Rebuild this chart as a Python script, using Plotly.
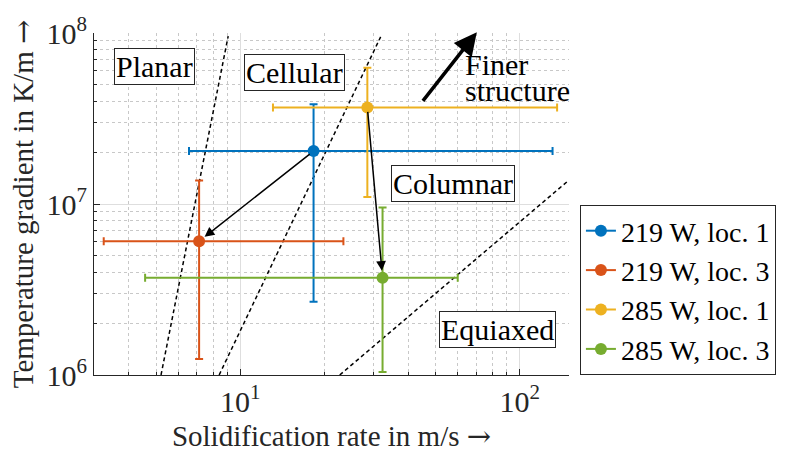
import numpy as np
import plotly.graph_objects as go

# ---- data ----
names = ["219 W, loc. 1", "219 W, loc. 3", "285 W, loc. 1", "285 W, loc. 3"]
colors = ["#0072BD", "#D95319", "#EDB120", "#77AC30"]
rate = [18.3, 7.13, 28.5, 32.3]            # m/s
rate_lo = [6.56, 3.25, 13.1, 4.57]
rate_hi = [131.0, 23.4, 136.0, 60.0]
grad = [2.04e7, 6.06e6, 3.67e7, 3.70e6]    # K/m
grad_lo = [2.68e6, 1.24e6, 1.10e7, 1.04e6]
grad_hi = [3.83e7, 1.37e7, 6.27e7, 9.55e6]

# boundary lines (rate, gradient) pairs
bound_rate = [[5.21, 9.06], [8.41, 31.8], [22.7, 150.0]]
bound_grad = [[1e6, 9.6e7], [1e6, 9.5e7], [1e6, 1.38e7]]

# region labels: text, rate, gradient
region_text = ["Planar", "Cellular", "Columnar", "Equiaxed"]
region_rate = [4.92, 15.6, 57.5, 83.4]
region_grad = [6.35e7, 5.86e7, 1.315e7, 1.85e6]

# "finer structure" arrow (tail -> head) and text
finer_tail = (44.6, 3.93e7)
finer_head = (70.2, 1.01e8)
finer_lines = ["Finer", "structure"]
finer_rate = 62.5
finer_grad = [6.5e7, 4.6e7]

# transitions (from index -> to index)
transitions = [(0, 1), (2, 3)]

FONT = "Liberation Serif"
AX = "#262626"
ARROW = '<span style="font-family:DejaVu Serif">\u2192</span>'

fig = go.Figure()

for br, bg in zip(bound_rate, bound_grad):
    fig.add_trace(go.Scatter(x=br, y=bg, mode="lines", showlegend=False,
                             line=dict(color="black", width=1.5, dash="4px,3px"),
                             hoverinfo="skip"))

for i in range(4):
    fig.add_trace(go.Scatter(
        x=[rate[i]], y=[grad[i]], mode="markers+lines", name=names[i],
        marker=dict(color=colors[i], size=12),
        line=dict(color=colors[i], width=2),
        error_x=dict(type="data", symmetric=False,
                     array=[rate_hi[i] - rate[i]], arrayminus=[rate[i] - rate_lo[i]],
                     color=colors[i], thickness=2, width=4),
        error_y=dict(type="data", symmetric=False,
                     array=[grad_hi[i] - grad[i]], arrayminus=[grad[i] - grad_lo[i]],
                     color=colors[i], thickness=2, width=4),
    ))

ann = []
for a, b in transitions:
    ann.append(dict(x=np.log10(rate[b]), y=np.log10(grad[b]),
                    ax=np.log10(rate[a]), ay=np.log10(grad[a]),
                    xref="x", yref="y", axref="x", ayref="y",
                    showarrow=True, arrowhead=2, arrowsize=1.3, arrowwidth=1.5,
                    arrowcolor="black", standoff=7, startstandoff=3, text=""))

ann.append(dict(x=np.log10(finer_head[0]), y=np.log10(finer_head[1]),
                ax=np.log10(finer_tail[0]), ay=np.log10(finer_tail[1]),
                xref="x", yref="y", axref="x", ayref="y",
                showarrow=True, arrowhead=2, arrowsize=1.3, arrowwidth=3.5,
                arrowcolor="black", text=""))

for t, g in zip(finer_lines, finer_grad):
    ann.append(dict(x=np.log10(finer_rate), y=np.log10(g), xref="x", yref="y",
                    text=t, showarrow=False, xanchor="left",
                    font=dict(family=FONT, size=30, color="black")))

for t, r, g in zip(region_text, region_rate, region_grad):
    ann.append(dict(x=np.log10(r), y=np.log10(g), xref="x", yref="y",
                    text=t, showarrow=False,
                    bgcolor="white", bordercolor=AX, borderwidth=1, borderpad=1,
                    font=dict(family=FONT, size=30, color="black")))

fig.update_layout(
    width=795, height=459,
    margin=dict(l=94, r=226, t=30, b=84),
    paper_bgcolor="white", plot_bgcolor="white",
    font=dict(family=FONT, size=29, color=AX),
    annotations=ann,
    legend=dict(x=1.023, xanchor="left", y=0, yanchor="bottom",
                bordercolor=AX, borderwidth=1, bgcolor="white",
                font=dict(family=FONT, size=28, color="black"),
                tracegroupgap=0, itemwidth=30),
    xaxis=dict(type="log", range=[np.log10(3), np.log10(150)],
               tickvals=[10, 100], ticktext=["10<sup>1</sup>", "10<sup>2</sup>"],
               ticks="inside", ticklen=6, tickcolor=AX,
               showline=True, linecolor=AX, linewidth=1,
               showgrid=True, gridcolor="#dedede", gridwidth=1,
               minor=dict(tickvals=[m * 10 ** k for k in range(0, 3) for m in range(2, 10)],
                          ticks="inside", ticklen=3, tickcolor=AX,
                          showgrid=True, gridcolor="#c8c8c8", griddash="dot", gridwidth=1),
               tickfont=dict(family=FONT, size=30, color=AX),
               title=dict(text="Solidification rate in m/s " + ARROW, standoff=8,
                          font=dict(family=FONT, size=29, color=AX)),
               zeroline=False, mirror=False),
    yaxis=dict(type="log", range=[6, 8],
               tickvals=[1e6, 1e7, 1e8],
               ticktext=["10<sup>6</sup>", "10<sup>7</sup>", "10<sup>8</sup>"],
               ticks="inside", ticklen=6, tickcolor=AX,
               showline=True, linecolor=AX, linewidth=1,
               showgrid=True, gridcolor="#dedede", gridwidth=1,
               minor=dict(tickvals=[m * 10 ** k for k in range(6, 8) for m in range(2, 10)],
                          ticks="inside", ticklen=3, tickcolor=AX,
                          showgrid=True, gridcolor="#c8c8c8", griddash="dot", gridwidth=1),
               tickfont=dict(family=FONT, size=30, color=AX),
               title=dict(text="Temperature gradient in K/m " + ARROW, standoff=4,
                          font=dict(family=FONT, size=29, color=AX)),
               zeroline=False),
)

fig.write_html("out.html")
